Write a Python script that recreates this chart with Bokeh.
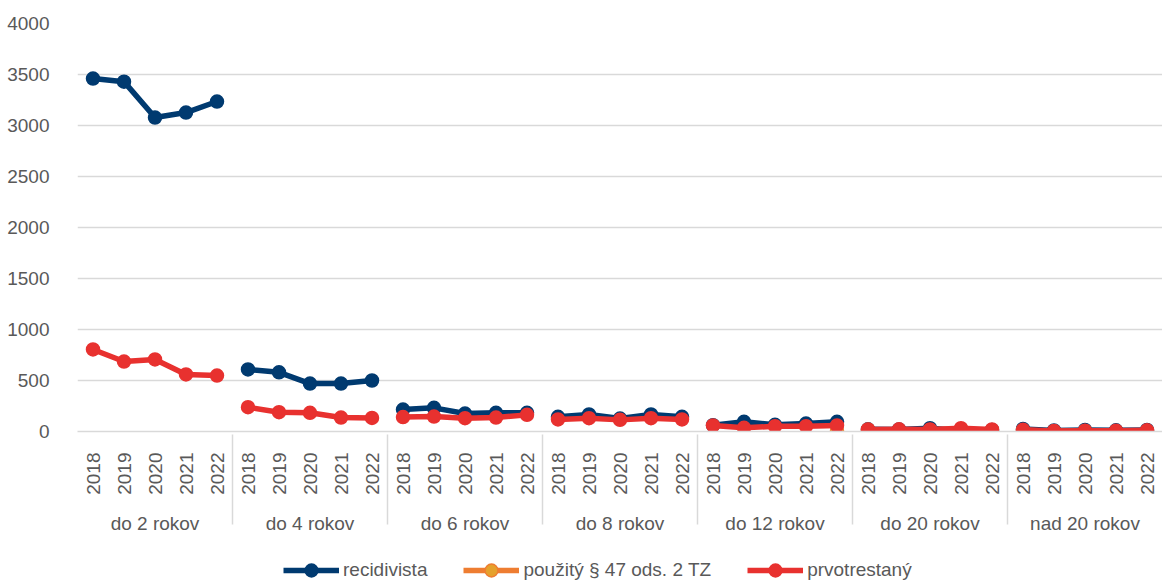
import math
from bokeh.plotting import figure
from bokeh.layouts import column
from bokeh.models import FactorRange, Range1d, Legend, LegendItem, FixedTicker
from bokeh.embed import file_html
from bokeh.resources import INLINE

groups = ["do 2 rokov", "do 4 rokov", "do 6 rokov", "do 8 rokov",
          "do 12 rokov", "do 20 rokov", "nad 20 rokov"]
years = ["2018", "2019", "2020", "2021", "2022"]
y_ticks = [0, 500, 1000, 1500, 2000, 2500, 3000, 3500, 4000]

recidivista = [
    [3460, 3430, 3078, 3127, 3235],
    [608, 580, 470, 470, 500],
    [215, 232, 176, 183, 183],
    [144, 167, 127, 167, 144],
    [62, 95, 66, 78, 95],
    [22, 20, 32, 8, 15],
    [25, 10, 15, 12, 15],
]
pouzity_47 = [
    [None, None, None, None, None],
    [None, None, None, None, None],
    [None, None, None, None, None],
    [None, None, None, None, None],
    [None, None, None, None, 5],
    [18, 3, 15, 25, 3],
    [12, 2, 6, 2, 5],
]
prvotrestany = [
    [804, 686, 706, 559, 549],
    [238, 189, 183, 137, 133],
    [141, 147, 131, 137, 163],
    [118, 131, 114, 131, 118],
    [59, 36, 52, 52, 59],
    [20, 22, 20, 33, 20],
    [17, 5, 8, 8, 12],
]
series_names = ["recidivista", "použitý § 47 ods. 2 TZ", "prvotrestaný"]

FONT = "Liberation Sans"
TXT = "#595959"
GRID = "#D9D9D9"

factors = [(g, y) for g in groups for y in years]
p = figure(
    x_range=FactorRange(*factors, factor_padding=0, subgroup_padding=0,
                        group_padding=0, range_padding=0),
    y_range=Range1d(0, 4000),
    width=1162, height=546,
    output_backend="svg", toolbar_location=None,
    min_border_left=77, min_border_top=23, min_border_right=0,
    min_border_bottom=115,
)
p.outline_line_color = None
p.background_fill_color = "white"

p.yaxis.ticker = FixedTicker(ticks=y_ticks)
p.yaxis.axis_line_color = None
p.yaxis.major_tick_line_color = None
p.yaxis.minor_tick_line_color = None
p.yaxis.major_label_text_font = FONT
p.yaxis.major_label_text_font_size = "19px"
p.yaxis.major_label_text_color = TXT
p.yaxis.major_label_standoff = 22

p.ygrid.grid_line_color = GRID
p.ygrid.grid_line_width = 1.5
p.xgrid.grid_line_color = None

xa = p.xaxis[0]
xa.axis_line_color = GRID
xa.axis_line_width = 1.5
xa.major_tick_line_color = None
xa.minor_tick_line_color = None
xa.major_label_orientation = math.pi / 2
xa.major_label_text_font = FONT
xa.major_label_text_font_size = "19px"
xa.major_label_text_color = TXT
xa.major_label_standoff = 15
xa.group_text_font = FONT
xa.group_text_font_size = "19px"
xa.group_text_color = TXT
xa.group_text_font_style = "normal"
xa.separator_line_color = GRID
xa.separator_line_width = 1.5

styles = [
    dict(line="#003A70", fill="#003A70", outline="#003A70"),
    dict(line="#EE7D31", fill="#E5A12C", outline="#EE7D31"),
    dict(line="#E8312F", fill="#E8312F", outline="#E8312F"),
]
all_series = [recidivista, pouzity_47, prvotrestany]

for name, data, st in zip(series_names, all_series, styles):
    for g, vals in zip(groups, data):
        xs = [(g, y) for y in years]
        ys = [float("nan") if v is None else v for v in vals]
        p.line(xs, ys, line_color=st["line"], line_width=5.5)
        p.scatter(xs, ys, size=13, fill_color=st["fill"],
                  line_color=st["outline"], line_width=1.5)

# legend strip below the chart (its glyph renderers sit outside its view)
lg = figure(width=1162, height=35, output_backend="svg", toolbar_location=None,
            x_axis_location=None, y_axis_location=None,
            min_border=0, x_range=Range1d(0, 1), y_range=Range1d(0, 1))
lg.outline_line_color = None
lg.grid.visible = False
items = []
for name, st in zip(series_names, styles):
    lr = lg.line([-10, -9], [-10, -9], line_color=st["line"], line_width=5.5)
    sr = lg.scatter([-10], [-10], size=13, fill_color=st["fill"],
                    line_color=st["outline"], line_width=1.5)
    items.append(LegendItem(label=name, renderers=[lr, sr]))

legend = Legend(items=items, orientation="horizontal", location=(206, -5),
                border_line_color=None, background_fill_alpha=0,
                label_text_font=FONT, label_text_font_size="19px",
                label_text_color=TXT, glyph_width=56, glyph_height=32,
                label_standoff=4, spacing=36, padding=0, margin=0)
lg.add_layout(legend, "center")

layout = column(p, lg, spacing=0)
open("out.html", "w").write(file_html(layout, INLINE))
